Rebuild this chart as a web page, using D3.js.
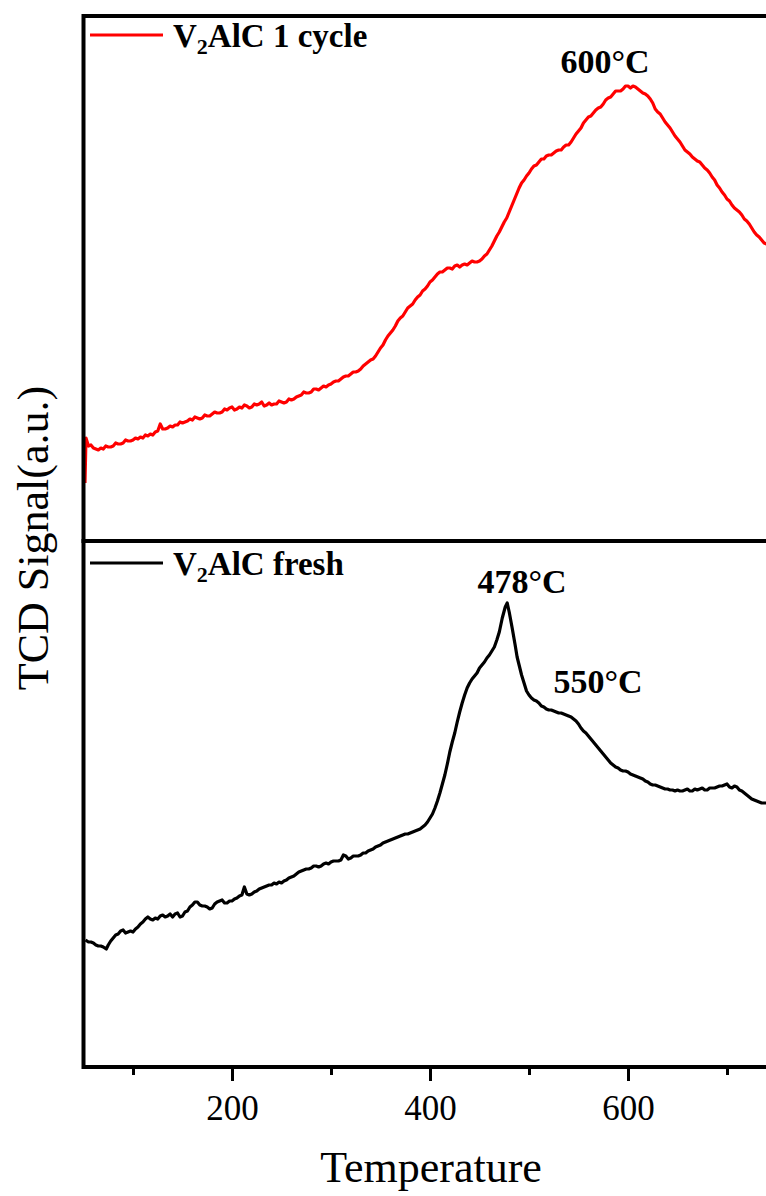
<!DOCTYPE html>
<html>
<head>
<meta charset="utf-8">
<script src="https://cdn.jsdelivr.net/npm/d3@7"></script>
<style>
  html, body { margin: 0; padding: 0; background: #fff; }
  svg { display: block; }
</style>
</head>
<body>
<div id="chart"></div>
<script>
// ---------- data (temperature in °C, signal in a.u.) ----------
const cycleTemp = [51.5,52.5,55,57.5,60,62.5,65,67.5,70,72.5,75,77.5,80,82.5,85,87.5,90,92.5,95,97.5,100,102.5,105,107.5,110,112.5,115,117.5,120,122.5,125,127.5,130,132.5,135,137.5,140,142.5,145,147.5,150,152.5,155,157.5,160,162.5,165,167.5,170,172.5,175,177.5,180,182.5,185,187.5,190,192.5,195,197.5,200,202.5,205,207.5,210,212.5,215,217.5,220,222.5,225,227.5,230,232.5,235,237.5,240,242.5,245,247.5,250,252.5,255,257.5,260,262.5,265,267.5,270,272.5,275,277.5,280,282.5,285,287.5,290,292.5,295,297.5,300,302.5,305,307.5,310,312.5,315,317.5,320,322.5,325,327.5,330,332.5,335,337.5,340,342.5,345,347.5,350,352.5,355,357.5,360,362.5,365,367.5,370,372.5,375,377.5,380,382.5,385,387.5,390,392.5,395,397.5,400,402.5,405,407.5,410,412.5,415,417.5,420,422.5,425,427.5,430,432.5,435,437.5,440,442.5,445,447.5,450,452.5,455,457.5,460,462.5,465,467.5,470,472.5,475,477.5,480,482.5,485,487.5,490,492.5,495,497.5,500,502.5,505,507.5,510,512.5,515,517.5,520,522.5,525,527.5,530,532.5,535,537.5,540,542.5,545,547.5,550,552.5,555,557.5,560,562.5,565,567.5,570,572.5,575,577.5,580,582.5,585,587.5,590,592.5,595,597.5,600,602.5,605,607.5,610,612.5,615,617.5,620,622.5,625,627.5,630,632.5,635,637.5,640,642.5,645,647.5,650,652.5,655,657.5,660,662.5,665,667.5,670,672.5,675,677.5,680,682.5,685,687.5,690,692.5,695,697.5,700,702.5,705,707.5,710,712.5,715,717.5,720,722.5,725,727.5,730,732.5,735,737.5,740,742.5,745,747.5,750];
const cycleSignal = [58,103,95,96,93,92,91,93,92,95,94,94,95,98,97,97,98,101,100,100,101,103,102,104,103,106,105,107,106,109,110,117,112,112,113,115,114,116,116,119,118,119,120,122,121,124,123,122,123,126,125,125,127,129,128,128,129,132,131,133,134,131,132,134,133,136,135,133,134,137,136,137,139,135,136,138,136,137,137,140,139,138,139,142,141,142,144,145,146,149,148,148,149,152,152,151,153,155,154,156,157,159,160,160,162,164,165,165,167,169,169,170,172,175,177,179,181,182,185,189,193,196,201,205,208,211,215,220,223,225,229,233,235,237,241,244,246,250,252,255,259,261,264,267,269,269,271,273,273,272,275,276,274,276,277,276,278,280,279,279,280,282,285,287,291,295,300,305,309,314,319,323,329,335,341,347,353,358,361,365,368,372,375,376,379,382,382,385,386,386,388,390,391,391,394,396,396,399,403,407,410,413,418,421,424,425,428,431,433,434,437,441,443,444,447,450,450,450,452,455,455,453,455,454,452,450,448,447,445,442,438,432,429,427,423,419,416,413,409,405,402,399,395,391,389,387,384,382,380,379,376,373,371,368,364,361,356,353,349,346,342,340,336,333,331,329,326,322,320,317,313,309,306,304,301,298,297,294,292,290,288];

const freshTemp = [52,55,57.5,60,62.5,65,67.5,70,73,75,77.5,80,82.5,85,87.5,90,92.5,95,97.5,100,102.5,105,107.5,110,112.5,115,117.5,120,122.5,125,127.5,130,132.5,135,137.5,140,142.5,145,147.5,150,152.5,155,157.5,160,162.5,165,167.5,170,172.5,175,177.5,180,182.5,185,187.5,190,192.5,195,197.5,200,202.5,205,207.5,210,212.5,215,217.5,220,222.5,225,227.5,230,232.5,235,237.5,240,242.5,245,247.5,250,252.5,255,257.5,260,262.5,265,267.5,270,272.5,275,277.5,280,282.5,285,287.5,290,292.5,295,297.5,300,302.5,305,307.5,310,312.5,315,317.5,320,322.5,325,327.5,330,332.5,335,337.5,340,342.5,345,347.5,350,352.5,355,357.5,360,362.5,365,367.5,370,372.5,375,377.5,380,382.5,385,387.5,390,392.5,395,397.5,400,402.5,405,407.5,410,412.5,415,417.5,420,422.5,425,427.5,430,432.5,435,437.5,440,442.5,445,447.5,450,452.5,455,457.5,460,462.5,465,467.5,470,473,476,478,480,483,486,488,490,492.5,495,497.5,500,502.5,505,507.5,510,512.5,515,517.5,520,522.5,525,527.5,530,532.5,535,537.5,540,542.5,545,547.5,550,552.5,555,557.5,560,562.5,565,567.5,570,572.5,575,577.5,580,582.5,585,587.5,590,592.5,595,597.5,600,602.5,605,607.5,610,612.5,615,617.5,620,622.5,625,627.5,630,632.5,635,637.5,640,642.5,645,647.5,650,652.5,655,657.5,660,662.5,665,667.5,670,672.5,675,677.5,680,682.5,685,687.5,690,692.5,695,697.5,700,702.5,705,707.5,710,712.5,715,717.5,720,722.5,725,727.5,730,732.5,735,737.5,740,742.5,745,747.5,750];
const freshSignal = [127,125,125,124,122,121,121,120,118,122,126,129,132,133,136,137,134,135,136,135,138,140,143,145,148,150,148,147,149,148,151,152,150,151,153,150,153,154,150,151,155,156,160,162,165,165,162,161,161,160,158,159,163,165,166,167,164,164,166,166,168,169,171,172,180,173,172,173,175,176,178,179,180,181,182,182,184,183,185,184,186,187,189,190,191,193,195,196,197,198,198,199,201,201,200,201,203,204,203,205,206,206,206,207,212,211,208,209,211,211,211,212,214,214,216,217,218,220,221,222,224,225,226,227,228,229,230,231,232,233,233,234,235,236,237,238,240,242,245,249,253,259,266,274,283,292,303,315,325,334,345,355,364,372,379,384,388,391,394,399,402,405,409,412,416,420,427,435,449,460,464,455,439,422,410,402,392,384,376,372,369,367,366,364,361,360,358,357,357,356,355,354,354,353,352,351,350,348,346,343,339,336,334,331,328,325,322,319,316,313,310,307,304,302,300,299,297,296,296,295,293,292,291,290,289,288,286,285,283,282,282,281,280,279,278,278,277,277,276,277,276,276,277,278,276,276,278,277,278,279,277,277,279,279,279,280,281,281,282,283,280,279,281,280,277,276,274,272,270,268,267,266,265,264,264,264,263,262,262,261];

const majorTicks = [200, 400, 600];
const minorTicks = [100, 300, 500, 700];
const xTitle = "Temperature";
const yTitle = "TCD Signal(a.u.)";

// ---------- layout ----------
const W = 766, H = 1196;
const left = 83.5, right = 776.5;
const topY = 16, midY = 541, botY = 1067;

const svg = d3.select("#chart").append("svg")
  .attr("width", W).attr("height", H)
  .attr("viewBox", `0 0 ${W} ${H}`);
svg.append("rect").attr("width", W).attr("height", H).attr("fill", "#fff");

const x = d3.scaleLinear().domain([50, 750]).range([left, right]);
const yTop = d3.scaleLinear().domain([0, 525]).range([midY, topY]);
const yBot = d3.scaleLinear().domain([0, 526]).range([botY, midY]);

const serif = "'Times New Roman', 'Liberation Serif', Times, serif";

// clip paths for panels
const defs = svg.append("defs");
defs.append("clipPath").attr("id", "clipTop").append("rect")
  .attr("x", left).attr("y", topY).attr("width", right - left).attr("height", midY - topY);
defs.append("clipPath").attr("id", "clipBot").append("rect")
  .attr("x", left).attr("y", midY).attr("width", right - left).attr("height", botY - midY);

// curves
const cycleData = cycleTemp.map((t, i) => [t, cycleSignal[i]]);
const freshData = freshTemp.map((t, i) => [t, freshSignal[i]]);

svg.append("path")
  .datum(cycleData)
  .attr("clip-path", "url(#clipTop)")
  .attr("fill", "none").attr("stroke", "#ff0000").attr("stroke-width", 3.2)
  .attr("stroke-linejoin", "round")
  .attr("d", d3.line().x(d => x(d[0])).y(d => yTop(d[1])));

svg.append("path")
  .datum(freshData)
  .attr("clip-path", "url(#clipBot)")
  .attr("fill", "none").attr("stroke", "#000").attr("stroke-width", 3.2)
  .attr("stroke-linejoin", "round")
  .attr("d", d3.line().x(d => x(d[0])).y(d => yBot(d[1])));

// frames
svg.append("rect").attr("x", left).attr("y", topY)
  .attr("width", right - left).attr("height", midY - topY)
  .attr("fill", "none").attr("stroke", "#000").attr("stroke-width", 4);
svg.append("rect").attr("x", left).attr("y", midY)
  .attr("width", right - left).attr("height", botY - midY)
  .attr("fill", "none").attr("stroke", "#000").attr("stroke-width", 4);

// x axis
const axMajor = svg.append("g").attr("transform", `translate(0,${botY + 2})`)
  .call(d3.axisBottom(x).tickValues(majorTicks).tickSize(12).tickPadding(14).tickFormat(d3.format("d")));
axMajor.select(".domain").remove();
axMajor.selectAll(".tick line").attr("stroke", "#000").attr("stroke-width", 3);
axMajor.selectAll(".tick text").attr("font-family", serif).attr("font-size", 35).attr("fill", "#000");

const axMinor = svg.append("g").attr("transform", `translate(0,${botY + 2})`)
  .call(d3.axisBottom(x).tickValues(minorTicks).tickSize(6).tickFormat(""));
axMinor.select(".domain").remove();
axMinor.selectAll(".tick line").attr("stroke", "#000").attr("stroke-width", 3);

// axis titles
svg.append("text").attr("x", 431).attr("y", 1182)
  .attr("text-anchor", "middle").attr("font-family", serif).attr("font-size", 44)
  .text(xTitle);
svg.append("text")
  .attr("transform", "translate(48,538) rotate(-90)")
  .attr("text-anchor", "middle").attr("font-family", serif).attr("font-size", 44)
  .text(yTitle);

// legends
function legend(y, color, rest) {
  svg.append("line").attr("x1", 90).attr("x2", 163).attr("y1", y).attr("y2", y)
    .attr("stroke", color).attr("stroke-width", 3);
  const t = svg.append("text").attr("x", 173).attr("y", y + 12)
    .attr("font-family", serif).attr("font-weight", "bold").attr("font-size", 33);
  t.append("tspan").text("V");
  t.append("tspan").attr("font-size", 22).attr("dy", 7).text("2");
  t.append("tspan").attr("dy", -7).text("AlC " + rest);
}
legend(35, "#ff0000", "1 cycle");
legend(563, "#000", "fresh");

// peak labels
function label(xc, yb, txt) {
  svg.append("text").attr("x", xc).attr("y", yb).attr("text-anchor", "middle")
    .attr("font-family", serif).attr("font-weight", "bold").attr("font-size", 34)
    .text(txt);
}
label(605, 73, "600°C");
label(522, 593, "478°C");
label(598, 693, "550°C");
</script>
</body>
</html>
